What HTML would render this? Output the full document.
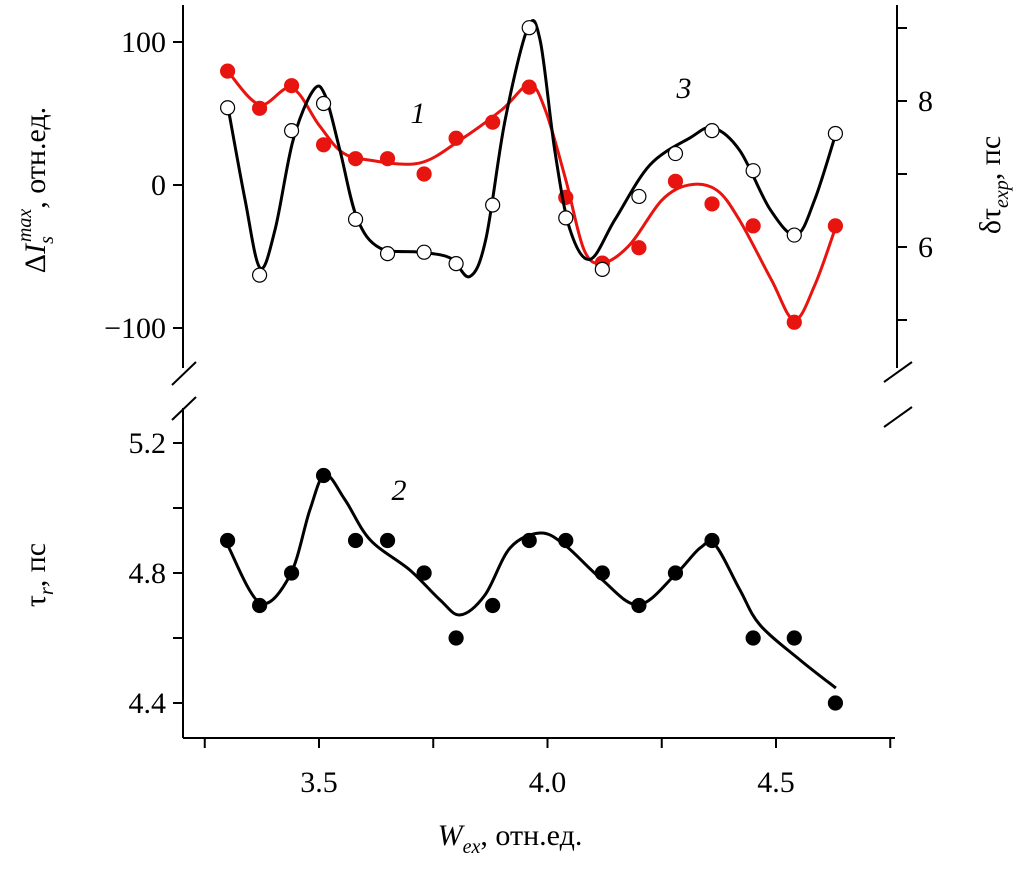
<!DOCTYPE html>
<html><head><meta charset="utf-8"><style>
body{margin:0;background:#fff}
svg{display:block;font-family:"Liberation Serif",serif}
</style></head><body>
<svg id="c" width="1025" height="871" viewBox="0 0 1025 871">
<g stroke="#000" stroke-width="2" fill="none">
<line x1="183" y1="5" x2="183" y2="368"/>
<line x1="183" y1="408" x2="183" y2="738"/>
<line x1="183" y1="738" x2="895" y2="738"/>
<line x1="897" y1="5" x2="897" y2="368"/>
<line x1="172" y1="385" x2="196" y2="362"/>
<line x1="172" y1="420" x2="196" y2="397"/>
<line x1="884" y1="382" x2="912" y2="362"/>
<line x1="884" y1="427" x2="912" y2="407"/>
</g>
<g id="ticks" stroke="#000" stroke-width="2"></g>
<g id="labels" font-size="30" fill="#000"></g>
<g id="series"></g>
<text x="418" y="123" font-size="30" font-style="italic" text-anchor="middle">1</text>
<text x="684" y="98" font-size="30" font-style="italic" text-anchor="middle">3</text>
<text x="399" y="500" font-size="30" font-style="italic" text-anchor="middle">2</text>
<text x="510" y="845" font-size="30" text-anchor="middle"><tspan font-style="italic">W</tspan><tspan font-size="20" dy="8" font-style="italic">ex</tspan><tspan dy="-8">, отн.ед.</tspan></text>
<text transform="translate(45,190) rotate(-90)" font-size="30" text-anchor="middle">Δ<tspan font-style="italic">I</tspan><tspan font-size="20" dy="8" font-style="italic">s</tspan><tspan font-size="20" dy="-22" dx="-6" font-style="italic">max</tspan><tspan dy="14">, отн.ед.</tspan></text>
<text transform="translate(45,575) rotate(-90)" font-size="30" text-anchor="middle">τ<tspan font-size="20" dy="8" font-style="italic">r</tspan><tspan dy="-8">, пс</tspan></text>
<text transform="translate(1000,185) rotate(-90)" font-size="30" text-anchor="middle">δτ<tspan font-size="20" dy="8" font-style="italic">exp</tspan><tspan dy="-8">, пс</tspan></text>
</svg>
<script>
const xs = [3.30,3.37,3.44,3.51,3.58,3.65,3.73,3.80,3.88,3.96,4.04,4.12,4.20,4.28,4.36,4.45,4.54,4.63];
const series3 = [54,-63,38,57,-24,-48,-47,-55,-14,110,-23,-59,-8,22,38,10,-35,36];
const series1 = [8.41,7.90,8.21,7.40,7.21,7.21,7.00,7.49,7.71,8.19,6.68,5.78,5.99,6.90,6.59,6.29,4.97,6.29];
const series2 = [4.9,4.7,4.8,5.1,4.9,4.9,4.8,4.6,4.7,4.9,4.9,4.8,4.7,4.8,4.9,4.6,4.6,4.4];
const fit1X = [3.30,3.37,3.44,3.50,3.55,3.61,3.72,3.81,3.90,3.96,3.995,4.04,4.08,4.12,4.18,4.25,4.31,4.37,4.42,4.49,4.54,4.585,4.63];
const fit1Y = [8.41,7.95,8.18,7.67,7.30,7.19,7.15,7.47,7.88,8.22,7.88,6.92,5.96,5.78,6.03,6.64,6.85,6.78,6.37,5.55,5.0,5.48,6.26];
const fit3X = [3.30,3.338,3.371,3.404,3.443,3.487,3.513,3.546,3.583,3.633,3.721,3.787,3.830,3.865,3.907,3.957,3.984,4.016,4.049,4.093,4.148,4.224,4.312,4.362,4.421,4.487,4.544,4.585,4.631];
const fit3Y = [56,-10,-58,-31,31,66,63,24,-23,-44,-47,-51,-64,-38,45,110,101,24,-31,-52,-24,14,33,40,24,-17,-35,-10,36];
const fit2X = [3.30,3.371,3.437,3.480,3.513,3.557,3.612,3.699,3.765,3.809,3.863,3.918,3.984,4.038,4.115,4.198,4.279,4.334,4.367,4.421,4.465,4.553,4.631];
const fit2Y = [4.886,4.708,4.794,4.994,5.102,5.025,4.902,4.809,4.717,4.671,4.732,4.877,4.923,4.886,4.785,4.702,4.794,4.877,4.886,4.748,4.640,4.532,4.446];
const xTicks = [3.25,3.5,3.75,4.0,4.25,4.5,4.75];
const xTickLabels = ["3.5","4.0","4.5"];
const leftTicks = [100,0,-100];
const rightTicks = [5,6,7,8,9];
const rightTickLabels = ["6","8"];
const bottomTicks = [4.4,4.6,4.8,5.0,5.2];
const bottomTickLabels = ["4.4","4.8","5.2"];

const X = v => 319 + (v-3.5)*457;
const YL = v => 185 - v*1.43;
const YR = v => 174 - (v-7)*73;
const YB = v => 573 - (v-4.8)*325;
const NS = "http://www.w3.org/2000/svg";
function mk(tag, parent, attrs){const e=document.createElementNS(NS,tag);for(const k in attrs)e.setAttribute(k,attrs[k]);parent.appendChild(e);return e;}
const T=document.getElementById('ticks'), L=document.getElementById('labels'), S=document.getElementById('series');

xTicks.forEach(v=>{const e=mk('line',T,{x1:X(v),x2:X(v),y1:738,y2:748});

});
xTickLabels.forEach(s=>{const e=mk('text',L,{x:X(+s),y:792,'text-anchor':'middle'});e.textContent=s;

});
leftTicks.forEach(v=>{const e=mk('line',T,{x1:173,x2:183,y1:YL(v),y2:YL(v)});


const t=mk('text',L,{x:166,y:YL(v)+10,'text-anchor':'end'});t.textContent=v<0?'\u2212'+(-v):String(v);

});
rightTicks.forEach(v=>{const e=mk('line',T,{x1:897,x2:907,y1:YR(v),y2:YR(v)});

});
rightTickLabels.forEach(s=>{const t=mk('text',L,{x:918,y:YR(+s)+10});t.textContent=s;

});
bottomTicks.forEach(v=>{const e=mk('line',T,{x1:173,x2:183,y1:YB(v),y2:YB(v)});

});
bottomTickLabels.forEach(s=>{const t=mk('text',L,{x:166,y:YB(+s)+10,'text-anchor':'end'});t.textContent=s;

});

function spline(pts){let d='M'+pts[0][0]+','+pts[0][1];
for(let i=0;i<pts.length-1;i++){const p0=pts[Math.max(0,i-1)],p1=pts[i],p2=pts[i+1],p3=pts[Math.min(pts.length-1,i+2)];
const c1=[p1[0]+(p2[0]-p0[0])/6,p1[1]+(p2[1]-p0[1])/6],c2=[p2[0]-(p3[0]-p1[0])/6,p2[1]-(p3[1]-p1[1])/6];
d+=' C'+c1+' '+c2+' '+p2;}return d;}
function draw(vals,fx,fy,Y,color,fill,name){
const fpts=fx.map((x,i)=>[X(x),Y(fy[i])]);
const p=mk('path',S,{d:spline(fpts),fill:'none',stroke:color,'stroke-width':3});


xs.forEach((x,i)=>{const c=mk('circle',S,{cx:X(x),cy:Y(vals[i]),r:7,fill:fill,stroke:fill==='#fff'?'#000':fill,'stroke-width':1.2});

});}
draw(series1,fit1X,fit1Y,YR,'#e8140f','#e8140f','series-1');
draw(series3,fit3X,fit3Y,YL,'#000','#fff','series-3');
draw(series2,fit2X,fit2Y,YB,'#000','#000','series-2');
</script>
</body></html>
